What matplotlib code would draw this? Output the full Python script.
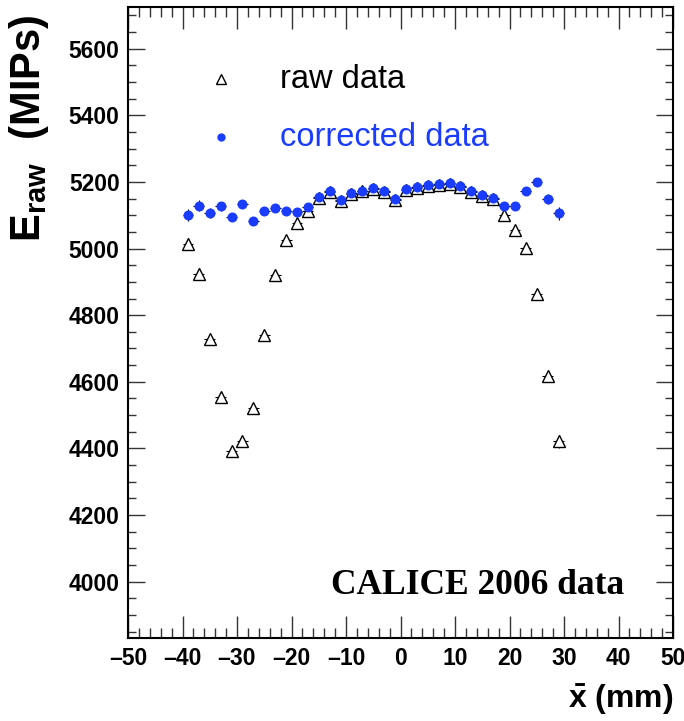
"""CALICE 2006: E_raw versus mean shower x position, raw and corrected."""
import matplotlib

matplotlib.use("Agg")
import matplotlib.pyplot as plt
import numpy as np
from matplotlib.ticker import MultipleLocator

plt.rcParams["font.family"] = ["Liberation Sans", "DejaVu Sans"]
plt.rcParams["mathtext.fontset"] = "custom"
plt.rcParams["mathtext.rm"] = "Liberation Sans"
plt.rcParams["mathtext.bf"] = "Liberation Sans:bold"

# mean x position (mm), 2 mm bins
x_pos = [-39, -37, -35, -33, -31, -29, -27, -25, -23, -21, -19, -17, -15, -13, -11, -9, -7, -5,
         -3, -1, 1, 3, 5, 7, 9, 11, 13, 15, 17, 19, 21, 23, 25, 27, 29]

raw_data = [5014, 4925, 4727, 4555, 4392, 4422, 4522, 4740, 4922, 5027, 5077, 5112, 5153, 5169,
            5142, 5164, 5172, 5180, 5170, 5147, 5177, 5183, 5188, 5192, 5194, 5184, 5170, 5157,
            5148, 5100, 5057, 5001, 4863, 4617, 4421]

corrected_data = [5102, 5129, 5107, 5127, 5095, 5133, 5082, 5114, 5122, 5112, 5109, 5124, 5155,
                  5172, 5145, 5167, 5174, 5182, 5172, 5150, 5179, 5185, 5191, 5195, 5197, 5187,
                  5172, 5160, 5151, 5127, 5127, 5172, 5200, 5149, 5106]

# statistical errors (MIPs)
y_err = [18, 16, 14, 13, 12, 11, 10, 9, 8, 8, 7, 7, 6, 6, 6, 6, 6, 6,
         6, 6, 6, 6, 6, 6, 6, 6, 6, 7, 7, 8, 9, 10, 12, 14, 20]
x_err = 1.0

BLUE = "#1a3cff"

fig = plt.figure(figsize=(6.84, 7.21), dpi=100)
ax = fig.add_axes([128 / 684, 1 - 637.7 / 721, 545 / 684, 630.4 / 721])

ax.errorbar(x_pos, raw_data, xerr=x_err, yerr=y_err, fmt="none", ecolor="black",
            elinewidth=0.8, capsize=0, zorder=2)
ax.plot(x_pos, raw_data, linestyle="none", marker="^", markersize=8.5,
        markerfacecolor="white", markeredgecolor="black", markeredgewidth=1.0, zorder=3)
ax.errorbar(x_pos, corrected_data, xerr=x_err, yerr=y_err, fmt="none", ecolor="black",
            elinewidth=0.8, capsize=0, zorder=4)
ax.plot(x_pos, corrected_data, linestyle="none", marker="o", markersize=6.2,
        markerfacecolor=BLUE, markeredgecolor=BLUE, zorder=5)

ax.set_xlim(-50, 50)
ax.set_ylim(3832, 5724)

ax.xaxis.set_major_locator(MultipleLocator(10))
ax.xaxis.set_minor_locator(MultipleLocator(2))
ax.yaxis.set_major_locator(MultipleLocator(200))
ax.yaxis.set_minor_locator(MultipleLocator(50))

ax.tick_params(axis="both", which="both", direction="in", top=True, right=True, color="#333333")
ax.tick_params(axis="x", which="major", length=15.5, width=1.0, pad=7)
ax.tick_params(axis="x", which="minor", length=7.5, width=1.0)
ax.tick_params(axis="y", which="major", length=12, width=1.0, pad=6)
ax.tick_params(axis="y", which="minor", length=6, width=1.0)
for lab in ax.get_xticklabels() + ax.get_yticklabels():
    lab.set_fontsize(16.5)
    lab.set_fontweight("bold")
for sp in ax.spines.values():
    sp.set_linewidth(1.5)

# ROOT style minus sign
ax.set_xticks(ax.get_xticks())
ax.set_xticklabels([f"{int(t)}".replace("-", "\u2013") for t in ax.get_xticks()],
                   fontsize=16.5, fontweight="bold")
ax.set_xlim(-50, 50)

# legend, drawn by hand
ax.plot([0.1706], [0.886], transform=ax.transAxes, linestyle="none", marker="^",
        markersize=7.5, markerfacecolor="white", markeredgecolor="black", markeredgewidth=1.0)
ax.text(0.279, 0.886, "raw data", transform=ax.transAxes, fontsize=23.5,
        ha="left", va="center", color="black")
ax.plot([0.1706], [0.794], transform=ax.transAxes, linestyle="none", marker="o",
        markersize=5, color=BLUE)
ax.text(0.279, 0.794, "corrected data", transform=ax.transAxes, fontsize=23.5,
        ha="left", va="center", color=BLUE)

ax.text(0.642, 0.0693, "CALICE 2006 data", transform=ax.transAxes, fontsize=25.5,
        family="Liberation Serif", fontweight="bold", ha="center", va="baseline")

fig.text(29 / 684, 1 - 15 / 721, r"$\mathbf{E}_{\mathbf{raw}}$  (MIPs)", rotation=90,
         fontsize=30, fontweight="bold", ha="center", va="top")
fig.text(673 / 684, 1 - 700 / 721, r"$\mathbf{\bar{x}}$ (mm)", fontsize=23,
         fontweight="bold", ha="right", va="center")

fig.savefig("out.png", dpi=100)
